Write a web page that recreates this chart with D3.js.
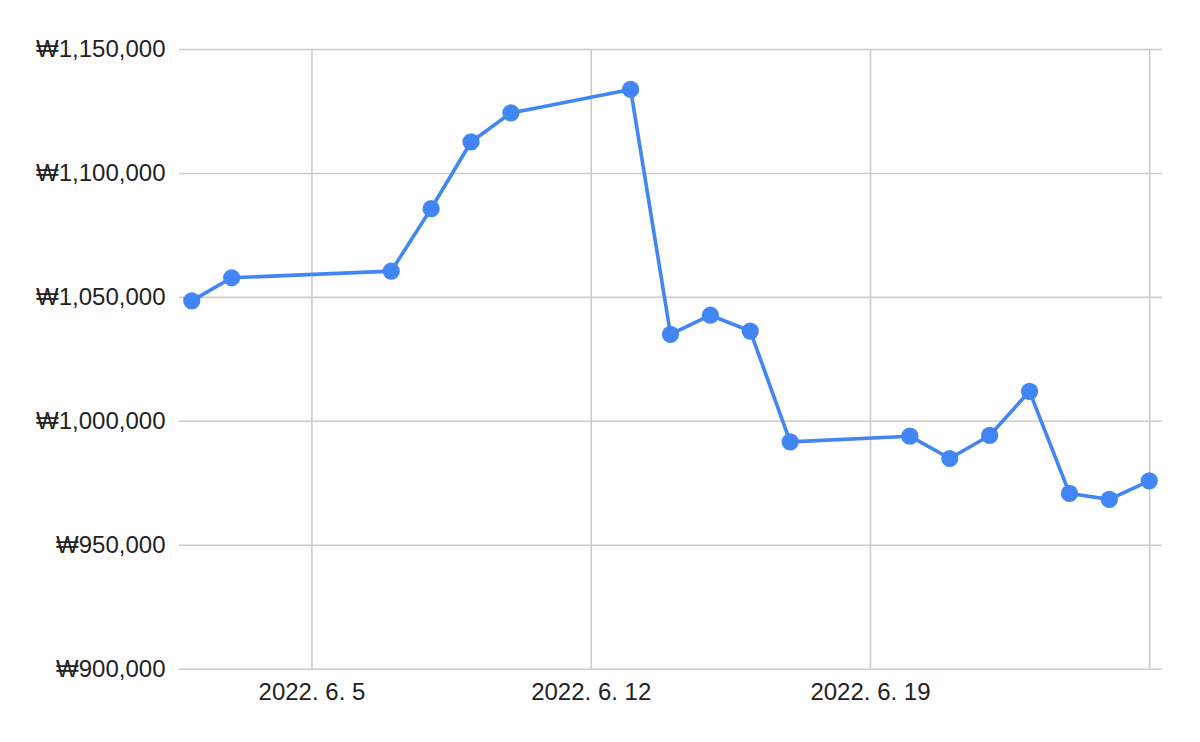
<!DOCTYPE html>
<html>
<head>
<meta charset="utf-8">
<script src="https://cdn.jsdelivr.net/npm/d3@7"></script>
<style>
  body { margin: 0; background: #fff; }
  .tick text { font-family: "Liberation Sans", Arial, sans-serif; font-size: 24px; fill: #222; }
</style>
</head>
<body>
<div id="chart"></div>
<script>
var dates = ["2022-06-02", "2022-06-03", "2022-06-07", "2022-06-08", "2022-06-09", "2022-06-10",
             "2022-06-13", "2022-06-14", "2022-06-15", "2022-06-16", "2022-06-17",
             "2022-06-20", "2022-06-21", "2022-06-22", "2022-06-23", "2022-06-24", "2022-06-25", "2022-06-26"]
var prices = [1048400, 1057700, 1060400, 1085600, 1112500, 1124200,
              1133700, 1034900, 1042600, 1036200, 991500,
              993800, 984800, 994100, 1011900, 970700, 968300, 975800]

var yTicks = [900000, 950000, 1000000, 1050000, 1100000, 1150000]
var xTicks = ["2022-06-05", "2022-06-12", "2022-06-19", "2022-06-26"]
var xTickLabels = ["2022. 6. 5", "2022. 6. 12", "2022. 6. 19", ""]

var W = 1200, H = 742
var margin = {top: 49, right: 38, bottom: 73.3, left: 179}
var width = W - margin.left - margin.right
var height = H - margin.top - margin.bottom

var parseDate = d3.timeParse("%Y-%m-%d")
var data = dates.map(function(d, i) { return {date: parseDate(d), value: prices[i]}; })

var svg = d3.select("#chart")
  .append("svg")
    .attr("width", W)
    .attr("height", H)
  .append("g")
    .attr("transform", "translate(" + margin.left + "," + margin.top + ")")

// a bit of padding on both ends of the date axis
var pad = 0.32 * 864e5
var xExtent = d3.extent(data, function(d) { return d.date; })
var xScale = d3.scaleTime()
    .domain([new Date(+xExtent[0] - pad), new Date(+xExtent[1] + pad)])
    .range([0, width])

var yScale = d3.scaleLinear()
    .domain([yTicks[0], yTicks[yTicks.length - 1]])
    .range([height, 0])

var won = d3.format(",")

var yAxis = svg.append("g")
    .attr("class", "myYaxis")
    .call(d3.axisLeft(yScale)
      .tickValues(yTicks)
      .tickSize(-width)
      .tickPadding(13.5)
      .tickFormat(function(d) { return "\u20A9" + won(d); }))

var xAxis = svg.append("g")
    .attr("class", "myXaxis")
    .attr("transform", "translate(0," + height + ")")
    .call(d3.axisBottom(xScale)
      .tickValues(xTicks.map(parseDate))
      .tickSize(-height)
      .tickPadding(14.3)
      .tickFormat(function(d, i) { return xTickLabels[i]; }))

svg.selectAll(".domain").remove()
svg.selectAll(".tick line")
    .attr("stroke", "#cccccc")
    .attr("stroke-width", 1.6)

var line = d3.line()
    .x(function(d) { return xScale(d.date); })
    .y(function(d) { return yScale(d.value); })

svg.append("path")
    .datum(data)
    .attr("fill", "none")
    .attr("stroke", "#4285F4")
    .attr("stroke-width", 3.6)
    .attr("stroke-linejoin", "round")
    .attr("d", line)

svg.selectAll(".dot")
    .data(data)
    .enter()
    .append("circle")
    .attr("class", "dot")
    .attr("cx", function(d) { return xScale(d.date); })
    .attr("cy", function(d) { return yScale(d.value); })
    .attr("r", 8.6)
    .attr("fill", "#4285F4")
</script>
</body>
</html>
